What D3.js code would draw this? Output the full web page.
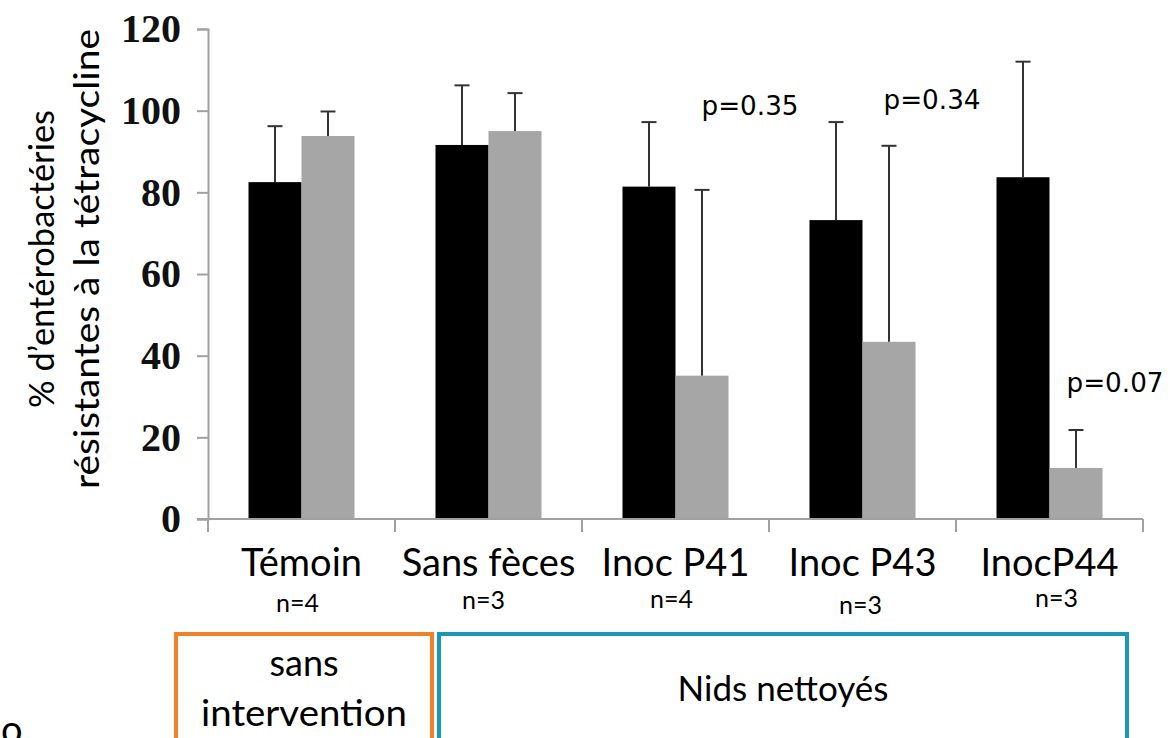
<!DOCTYPE html>
<html>
<head>
<meta charset="utf-8">
<script src="https://cdn.jsdelivr.net/npm/d3@7"></script>
<style>
  html, body { margin: 0; padding: 0; background: #fff; }
  svg { display: block; }
</style>
</head>
<body>
<svg id="chart" width="1170" height="738"></svg>
<script>
// Groups along the x axis and their sample sizes
const categories = ["Témoin", "Sans fèces", "Inoc P41", "Inoc P43", "InocP44"];
const sampleSizes = ["n=4", "n=3", "n=4", "n=3", "n=3"];

// Two series per group: mean % and standard deviation (upper error bar)
const series = ["black", "gray"];
const blackMeans = [82.5, 91.6, 81.4, 73.2, 83.7];
const blackSD    = [13.7, 14.6, 15.8, 24.0, 28.3];
const grayMeans  = [93.8, 95.0, 35.1, 43.4, 12.5];
const graySD     = [6.0, 9.3, 45.5, 48.0, 9.3];

// p-values shown above three of the groups
const pCats  = ["Inoc P41", "Inoc P43", "InocP44"];
const pTexts = ["p=0.35", "p=0.34", "p=0.07"];

const yTicks = [0, 20, 40, 60, 80, 100, 120];

const svg = d3.select("#chart");
const sansFont = "Lato, 'Open Sans', sans-serif";

const x0 = d3.scaleBand().domain(categories).range([208, 1143]).padding(0);
const x1 = d3.scaleBand().domain(series).range([0, x0.bandwidth()]).paddingInner(0).paddingOuter(0.764);
const y = d3.scaleLinear().domain([0, 120]).range([519, 29]);

const colors = { black: "#000000", gray: "#a6a6a6" };

const rows = categories.map((c, i) => ({
  cat: c,
  bars: [
    { s: "black", mean: blackMeans[i], sd: blackSD[i] },
    { s: "gray", mean: grayMeans[i], sd: graySD[i] }
  ]
}));

// bars
const groups = svg.selectAll("g.grp").data(rows).join("g")
  .attr("class", "grp")
  .attr("transform", d => `translate(${x0(d.cat)},0)`);

groups.selectAll("rect").data(d => d.bars).join("rect")
  .attr("x", d => x1(d.s))
  .attr("width", x1.bandwidth())
  .attr("y", d => y(d.mean))
  .attr("height", d => y(0) - y(d.mean))
  .attr("fill", d => colors[d.s]);

// upper error bars
const capHalf = 7.5;
groups.selectAll("g.err").data(d => d.bars).join("g")
  .attr("class", "err")
  .each(function(d) {
    const g = d3.select(this);
    const cx = x1(d.s) + x1.bandwidth() / 2;
    g.append("line")
      .attr("x1", cx).attr("x2", cx)
      .attr("y1", y(d.mean)).attr("y2", y(d.mean + d.sd))
      .attr("stroke", "#333").attr("stroke-width", 2);
    g.append("line")
      .attr("x1", cx - capHalf).attr("x2", cx + capHalf)
      .attr("y1", y(d.mean + d.sd)).attr("y2", y(d.mean + d.sd))
      .attr("stroke", "#333").attr("stroke-width", 2);
  });

// y axis
const yAxis = svg.append("g")
  .attr("transform", "translate(208,0)")
  .call(d3.axisLeft(y).tickValues(yTicks).tickSize(11).tickPadding(16).tickFormat(d3.format("d")));
yAxis.select(".domain").attr("stroke", "#a0a0a0").attr("stroke-width", 2);
yAxis.selectAll(".tick line").attr("stroke", "#a0a0a0").attr("stroke-width", 2);
yAxis.selectAll(".tick text")
  .attr("font-family", "'Liberation Serif', 'Times New Roman', serif")
  .attr("font-weight", "bold")
  .attr("font-size", 40)
  .attr("fill", "#111");

// x axis baseline with ticks at group boundaries
const xAxis = svg.append("g").attr("transform", `translate(0,${y(0)})`);
xAxis.append("line")
  .attr("x1", x0.range()[0] - 11).attr("x2", x0.range()[1])
  .attr("stroke", "#a0a0a0").attr("stroke-width", 2);
const bounds = categories.map(c => x0(c)).concat([x0.range()[1]]);
xAxis.selectAll("line.tk").data(bounds).join("line")
  .attr("class", "tk")
  .attr("x1", d => d).attr("x2", d => d)
  .attr("y1", 0).attr("y2", 13)
  .attr("stroke", "#a0a0a0").attr("stroke-width", 2);

// category labels
svg.selectAll("text.cat").data(categories).join("text")
  .attr("class", "cat")
  .attr("x", d => x0(d) + x0.bandwidth() / 2)
  .attr("y", 576)
  .attr("text-anchor", "middle")
  .attr("font-family", sansFont)
  .attr("font-size", 38)
  .attr("fill", "#000")
  .text(d => d);

// sample sizes, each sitting slightly differently under its label
const nOffsets = [{dx: -4, y: 612}, {dx: -5, y: 609}, {dx: -4, y: 608}, {dx: -2, y: 614}, {dx: 7, y: 607}];
svg.selectAll("text.n").data(sampleSizes).join("text")
  .attr("class", "n")
  .attr("x", (d, i) => x0(categories[i]) + x0.bandwidth() / 2 + nOffsets[i].dx)
  .attr("y", (d, i) => nOffsets[i].y)
  .attr("text-anchor", "middle")
  .attr("font-family", sansFont)
  .attr("font-size", 25)
  .attr("fill", "#000")
  .text(d => d);

// p-values: placed right of each group centre, above the taller error bar
const pPlace = [{dx: 26, top: 99}, {dx: 21, top: 100.5}, {dx: 17, top: 31}];
svg.selectAll("text.p").data(pTexts).join("text")
  .attr("class", "p")
  .attr("x", (d, i) => x0(pCats[i]) + x0.bandwidth() / 2 + pPlace[i].dx)
  .attr("y", (d, i) => y(pPlace[i].top))
  .attr("font-family", "'DejaVu Sans', Verdana, sans-serif")
  .attr("font-size", 26)
  .attr("textLength", 97)
  .attr("lengthAdjust", "spacingAndGlyphs")
  .attr("fill", "#000")
  .text(d => d);

// y axis title, two rotated lines
const yTitle = svg.append("text")
  .attr("transform", "translate(0,259) rotate(-90)")
  .attr("text-anchor", "middle")
  .attr("font-family", sansFont)
  .attr("font-size", 35)
  .attr("fill", "#000");
yTitle.append("tspan").attr("x", 0).attr("y", 54)
  .attr("textLength", 298).attr("lengthAdjust", "spacingAndGlyphs")
  .text("% d’entérobactéries");
yTitle.append("tspan").attr("x", 0).attr("y", 99)
  .attr("textLength", 460).attr("lengthAdjust", "spacingAndGlyphs")
  .text("résistantes à la tétracycline");

// grouping boxes under the axis
svg.append("rect")
  .attr("x", 176).attr("y", 634).attr("width", 256).attr("height", 130)
  .attr("fill", "none").attr("stroke", "#f28228").attr("stroke-width", 4);
svg.append("rect")
  .attr("x", 439).attr("y", 634).attr("width", 688).attr("height", 130)
  .attr("fill", "none").attr("stroke", "#1a98ba").attr("stroke-width", 4);

const boxText = svg.append("g")
  .attr("font-family", sansFont)
  .attr("font-size", 36)
  .attr("fill", "#000")
  .attr("text-anchor", "middle");
boxText.append("text").attr("x", 304).attr("y", 676).text("sans");
boxText.append("text").attr("x", 304).attr("y", 726)
  .attr("textLength", 206).attr("lengthAdjust", "spacingAndGlyphs")
  .text("intervention");
boxText.append("text").attr("x", 783).attr("y", 701)
  .attr("font-size", 35)
  .text("Nids nettoyés");

// stray letter at the lower-left edge
svg.append("text")
  .attr("x", 1).attr("y", 743)
  .attr("font-family", sansFont)
  .attr("font-size", 38)
  .attr("fill", "#000")
  .text("o");
</script>
</body>
</html>
